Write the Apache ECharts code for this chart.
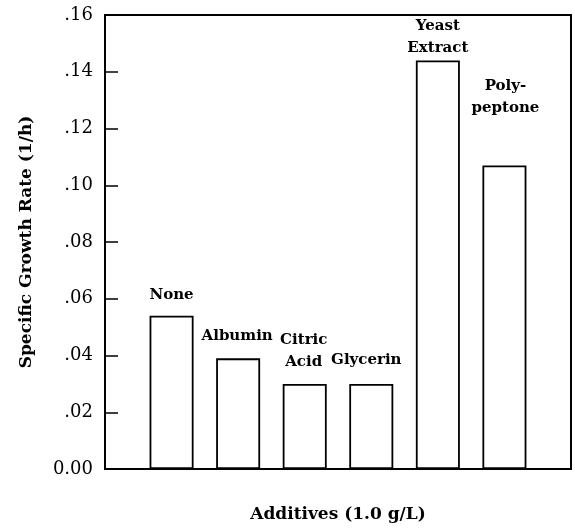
<!DOCTYPE html>
<html>
<head>
<meta charset="utf-8">
<script src="https://cdn.jsdelivr.net/npm/echarts@6/dist/echarts.min.js"></script>
<style>html,body{margin:0;padding:0;background:#fff;}#c{width:575px;height:528px;}</style>
</head>
<body>
<div id="c"></div>
<script>
// Data
var categories = ['None', 'Albumin', 'Citric\nAcid', 'Glycerin', 'Yeast\nExtract', 'Poly-\npeptone'];
var growthRates = [0.054, 0.039, 0.030, 0.030, 0.144, 0.107];
var yTicks = [0, 0.02, 0.04, 0.06, 0.08, 0.10, 0.12, 0.14, 0.16];
var yTickLabels = ['0.00', '.02', '.04', '.06', '.08', '.10', '.12', '.14', '.16'];

// Label layout tweaks (style only)
var labelShift = [[0, 0], [-1, -1], [-1, -1], [-5, -3], [0, 9], [1, -36]];

var serif = '"DejaVu Serif", "Liberation Serif", serif';
var chart = echarts.init(document.getElementById('c'), null, {renderer: 'canvas'});

var seriesData = growthRates.map(function (v, i) {
  return {
    value: [i + 1, v],
    label: { offset: labelShift[i] }
  };
});

chart.setOption({
  animation: false,
  backgroundColor: '#fff',
  grid: {
    left: 105, right: 4, top: 15, bottom: 59,
    show: true, borderColor: '#000', borderWidth: 2, backgroundColor: 'transparent'
  },
  xAxis: {
    type: 'value', min: 0, max: 7, interval: 1,
    name: 'Additives (1.0 g/L)',
    nameLocation: 'middle', nameGap: 37,
    nameTextStyle: { fontFamily: serif, fontWeight: 'bold', fontSize: 17, color: '#000' },
    axisLine: { show: true, lineStyle: { color: '#000', width: 2 } },
    axisTick: { show: false },
    axisLabel: { show: false },
    splitLine: { show: false }
  },
  yAxis: {
    type: 'value', min: 0, max: 0.16, interval: 0.02,
    name: 'Specific Growth Rate (1/h)',
    nameLocation: 'middle', nameGap: 70, nameRotate: 90,
    nameTextStyle: { fontFamily: serif, fontWeight: 'bold', fontSize: 17, color: '#000' },
    axisLine: { show: true, lineStyle: { color: '#000', width: 2 } },
    axisTick: { show: true, inside: true, length: 13, lineStyle: { color: '#000', width: 1.5 } },
    axisLabel: {
      fontFamily: serif, fontSize: 18, color: '#000', margin: 12,
      formatter: function (v) {
        for (var i = 0; i < yTicks.length; i++) {
          if (Math.abs(yTicks[i] - v) < 1e-9) return yTickLabels[i];
        }
        return '';
      }
    },
    splitLine: { show: false }
  },
  series: [{
    type: 'bar',
    barWidth: 44,
    data: seriesData,
    itemStyle: { color: '#fff', borderColor: '#000', borderWidth: 1.8 },
    label: {
      show: true, position: 'top', distance: 10,
      fontFamily: serif, fontWeight: 'bold', fontSize: 15, color: '#000',
      lineHeight: 22, align: 'center',
      formatter: function (p) { return categories[p.dataIndex]; }
    }
  }]
});
</script>
</body>
</html>
